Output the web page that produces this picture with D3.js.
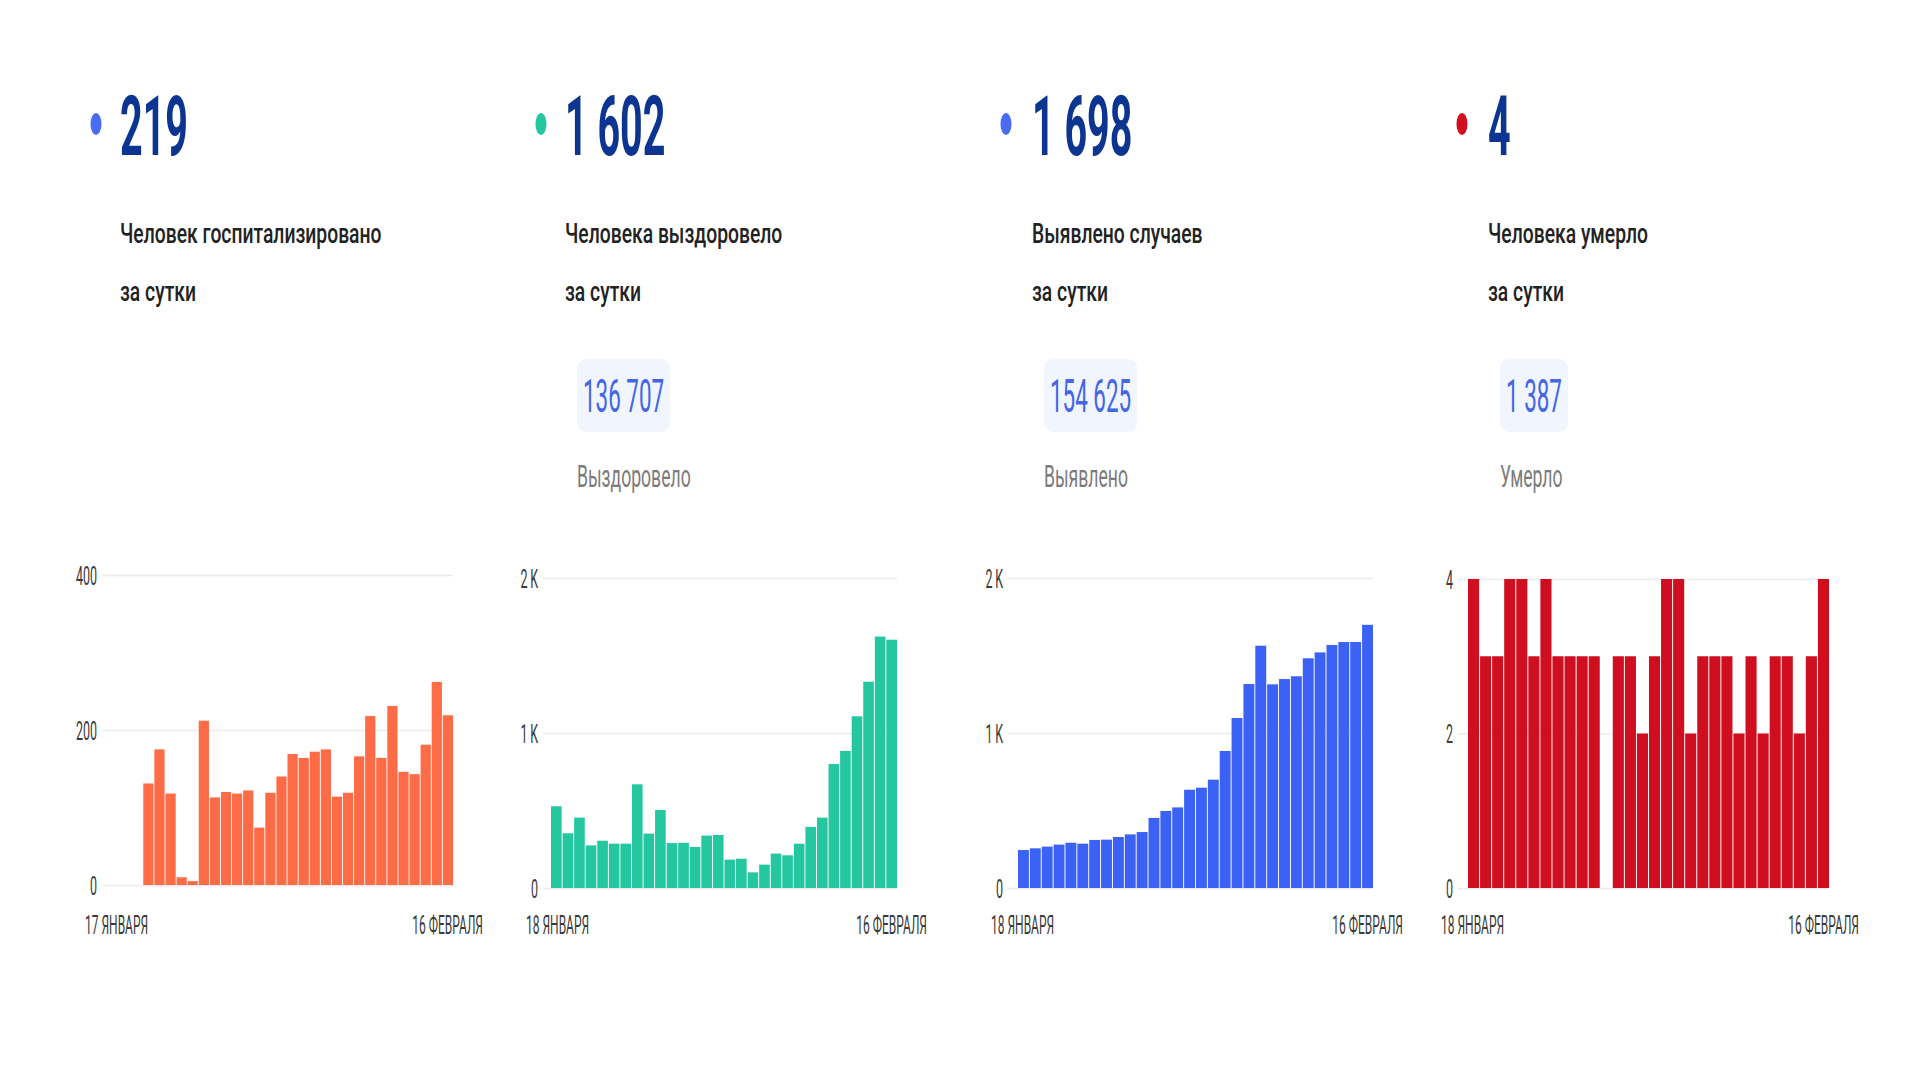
<!DOCTYPE html>
<html>
<head>
<meta charset="utf-8">
<script src="https://cdn.jsdelivr.net/npm/d3@7"></script>
<style>
  body { margin: 0; background: #fff; }
  text { font-family: Roboto, "Noto Sans", sans-serif; }
</style>
</head>
<body>
<script>
// ---- data ----
const dailyValues = [219, 1602, 1698, 4];
const captionLine1 = ["Человек госпитализировано", "Человека выздоровело", "Выявлено случаев", "Человека умерло"];
const captionLine2 = ["за сутки", "за сутки", "за сутки", "за сутки"];
const totals = [null, 136707, 154625, 1387];
const totalLabels = [null, "Выздоровело", "Выявлено", "Умерло"];

const hospitalized = [null, null, null, 131, 175, 118, 10, 5, 212, 113, 120, 118, 122, 74, 119, 140,
  169, 164, 172, 175, 114, 119, 166, 218, 164, 231, 146, 143, 181, 262, 219];
const recovered = [527, 353, 454, 275, 305, 286, 286, 669, 351, 503, 290, 292, 265, 338, 342,
  183, 189, 101, 151, 222, 211, 286, 394, 454, 800, 884, 1108, 1331, 1622, 1602];
const cases = [245, 256, 267, 280, 292, 286, 310, 312, 329, 346, 361, 452, 497, 520, 634,
  647, 699, 884, 1097, 1316, 1563, 1314, 1348, 1366, 1482, 1520, 1568, 1587, 1587, 1698];
const deaths = [4, 3, 3, 4, 4, 3, 4, 3, 3, 3, 3, 0, 3, 3, 2, 3, 4, 4, 2, 3,
  3, 3, 2, 3, 2, 3, 3, 2, 3, 4];

const ticksHosp = [0, 200, 400];
const ticksThousands = [0, 1000, 2000];
const ticksDeaths = [0, 2, 4];

const startLabels = ["17 ЯНВАРЯ", "18 ЯНВАРЯ", "18 ЯНВАРЯ", "18 ЯНВАРЯ"];
const endLabels = ["16 ФЕВРАЛЯ", "16 ФЕВРАЛЯ", "16 ФЕВРАЛЯ", "16 ФЕВРАЛЯ"];

const colors = ["#fd6b47", "#24c7a0", "#3c62f5", "#cf0f20"];
const dotColors = ["#4a6cf5", "#24c7a0", "#4a6cf5", "#cf0f20"];

const ruLocale = d3.formatLocale({decimal: ",", thousands: "\u00a0", grouping: [3], currency: ["", ""]});
const fmt = ruLocale.format(",");
const fmtK = d => d === 0 ? "0" : (d / 1000) + "\u2009K";

// ---- layout ----
const width = 1920, height = 1080;
const cols = [
  {x: 120, dot: 96},
  {x: 565, dot: 541},
  {x: 1032, dot: 1006},
  {x: 1488, dot: 1462}
];
const charts = [
  {series: hospitalized, ticks: ticksHosp, max: 400, fmt: d => d, left: 102, barLeft: 110, right: 453, y0: 885, yTop: 575},
  {series: recovered, ticks: ticksThousands, max: 2000, fmt: fmtK, left: 543, barLeft: 551, right: 897, y0: 888, yTop: 578},
  {series: cases, ticks: ticksThousands, max: 2000, fmt: fmtK, left: 1008, barLeft: 1018, right: 1373, y0: 888, yTop: 578},
  {series: deaths, ticks: ticksDeaths, max: 4, fmt: d => d, left: 1458, barLeft: 1468, right: 1829, y0: 888, yTop: 579}
];

const svg = d3.select("body").append("svg")
  .attr("width", width)
  .attr("height", height);

// text squeezed horizontally, like in the source screenshot
function squeezed(parent, str, x, y, sx, anchor) {
  return parent.append("text")
    .attr("transform", `translate(${x},${y}) scale(${sx},1)`)
    .attr("text-anchor", anchor || "start")
    .text(str);
}

// ---- headers ----
cols.forEach((c, i) => {
  const g = svg.append("g");

  g.append("ellipse")
    .attr("cx", c.dot).attr("cy", 124)
    .attr("rx", 5.5).attr("ry", 11)
    .attr("fill", dotColors[i]);

  squeezed(g, fmt(dailyValues[i]), c.x, 155, 0.47)
    .attr("font-size", 84)
    .attr("font-weight", 700)
    .attr("fill", "#0b3590");

  squeezed(g, captionLine1[i], c.x, 243, 0.69)
    .attr("font-size", 28)
    .attr("font-weight", 500)
    .attr("fill", "#222");
  squeezed(g, captionLine2[i], c.x, 301, 0.69)
    .attr("font-size", 28)
    .attr("font-weight", 500)
    .attr("fill", "#222");

  if (totals[i] !== null) {
    const pillX = c.x + 12;
    const pill = g.append("rect")
      .attr("x", pillX).attr("y", 359)
      .attr("height", 73)
      .attr("rx", 9)
      .attr("fill", "#f1f5fe");
    const t = squeezed(g, fmt(totals[i]), pillX + 6, 412, 0.487)
      .attr("font-size", 46)
      .attr("fill", "#4466e6");
    const w = t.node().getComputedTextLength() * 0.487;
    pill.attr("width", w + 12);

    squeezed(g, totalLabels[i], pillX, 487, 0.55)
      .attr("font-size", 32)
      .attr("fill", "#7b7b7b");
  }
});

// ---- bar charts ----
charts.forEach((ch, i) => {
  const g = svg.append("g");
  const bars = ch.series.map((v, k) => ({k, v})).filter(d => d.v !== null);

  const y = d3.scaleLinear()
    .domain([0, ch.max])
    .range([ch.y0, ch.yTop]);

  const x = d3.scaleBand()
    .domain(d3.range(ch.series.length))
    .range([ch.barLeft, ch.right])
    .paddingInner(0.08)
    .paddingOuter(0);

  // y axis with gridlines
  const axis = g.append("g")
    .attr("transform", `translate(${ch.left},0)`)
    .call(d3.axisLeft(y)
      .tickValues(ch.ticks)
      .tickFormat(ch.fmt)
      .tickSize(-(ch.right - ch.left))
      .tickPadding(0));
  axis.select(".domain").remove();
  axis.selectAll(".tick line")
    .attr("stroke", "#ececec")
    .attr("stroke-width", 1.5);
  axis.selectAll(".tick text")
    .attr("x", -10)
    .attr("dy", "0.36em")
    .attr("transform", "scale(0.5,1)")
    .attr("font-size", 25)
    .attr("font-family", "Roboto, sans-serif")
    .attr("fill", "#3a3a3a");

  g.selectAll("rect")
    .data(bars)
    .join("rect")
    .attr("x", d => x(d.k))
    .attr("width", x.bandwidth())
    .attr("y", d => y(d.v))
    .attr("height", d => ch.y0 - y(d.v))
    .attr("fill", colors[i]);

  squeezed(g, startLabels[i], ch.left - 17, 934, 0.48)
    .attr("font-size", 25)
    .attr("fill", "#3a3a3a");
  squeezed(g, endLabels[i], ch.right + 30, 934, 0.48, "end")
    .attr("font-size", 25)
    .attr("fill", "#3a3a3a");
});
</script>
</body>
</html>
